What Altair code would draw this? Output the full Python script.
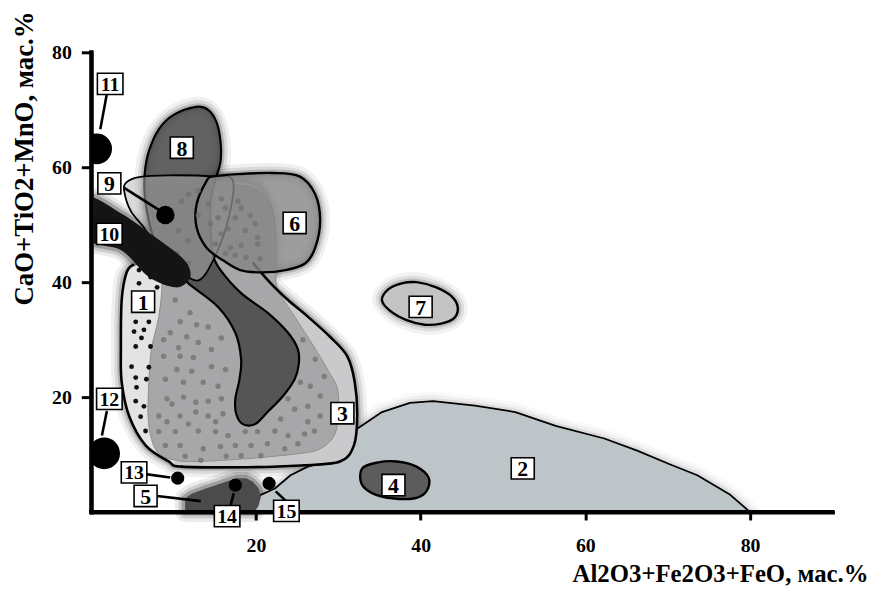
import altair as alt
import pandas as pd

FONT = "Liberation Serif"
X_TICKS = [20, 40, 60, 80]
Y_TICKS = [20, 40, 60, 80]
X_TITLE = "Al2O3+Fe2O3+FeO, мас.%"
Y_TITLE = "CaO+TiO2+MnO, мас.%"
X_DOMAIN = [0, 90]
Y_DOMAIN = [0, 80]

# ---- field outlines (x = Al2O3+Fe2O3+FeO, y = CaO+TiO2+MnO, wt.%) ----
FIELD_2 = [(17.0, 0.0), (17.5, 1.2), (20.0, 2.6), (22.3, 4.1), (24.2, 6.4), (26.3, 7.9),
           (29.9, 9.3), (31.5, 12.0), (32.3, 14.5), (35.3, 17.4), (38.7, 19.0), (41.5, 19.3),
           (46.6, 18.5), (51.5, 17.4), (56.4, 15.0), (62.3, 12.8), (66.3, 10.7), (70.1, 8.4),
           (73.6, 6.4), (77.6, 3.0), (80.0, 0.0)]
FIELD_5 = [(11.4, 0.0), (11.4, 2.4), (12.2, 3.2), (13.5, 3.9), (15.2, 4.7), (16.6, 5.4),
           (17.8, 5.9), (18.8, 5.9), (19.6, 5.3), (20.3, 4.2), (20.6, 2.6), (20.3, 1.0), (19.8, 0.0)]
FIELD_3 = [(4.3, 41.7), (6.4, 43.4), (7.2, 47.2), (7.0, 53.3), (7.6, 56.7), (10.8, 57.4),
           (19.0, 57.2), (21.4, 54.1), (22.2, 47.2), (22.0, 42.1), (21.8, 39.8), (23.9, 36.9),
           (26.3, 34.0), (29.0, 30.5), (31.1, 27.1), (32.0, 22.6), (32.3, 16.7), (31.9, 11.6),
           (30.2, 8.8), (25.4, 8.1), (19.0, 7.8), (11.0, 7.9), (9.4, 8.8), (6.6, 11.6),
           (4.6, 16.7), (3.7, 22.6), (3.6, 28.3), (3.7, 36.9)]
FIELD_3_EDGE = [(19.6, 43.4), (21.8, 39.8), (23.9, 36.9), (26.3, 34.0), (29.0, 30.5), (31.1, 27.1),
                (32.0, 22.6), (32.3, 16.7), (31.9, 11.6), (30.2, 8.8), (25.4, 8.1), (19.0, 7.8),
                (11.0, 7.9), (9.4, 8.8), (6.6, 11.6), (4.6, 16.7), (3.7, 22.6), (3.6, 28.3),
                (3.7, 36.9), (4.3, 41.7), (5.2, 43.1)]
FIELD_1 = [(4.3, 41.7), (6.4, 43.4), (8.2, 43.4), (8.6, 39.8), (8.2, 34.0), (7.3, 28.3),
           (7.0, 22.6), (6.9, 16.7), (7.3, 12.8), (8.2, 10.2), (10.2, 9.0), (9.4, 8.8),
           (6.6, 11.6), (4.6, 16.7), (3.7, 22.6), (3.6, 28.3), (3.7, 36.9)]
STIPPLE = [(7.8, 56.7), (10.8, 57.1), (18.8, 56.7), (21.7, 53.6), (22.4, 47.8), (22.4, 42.1),
           (22.7, 38.6), (24.7, 34.0), (26.9, 29.1), (28.7, 24.8), (29.9, 21.4), (30.0, 17.1),
           (29.5, 13.3), (27.8, 11.0), (25.4, 10.2), (19.0, 9.3), (13.0, 8.8), (10.2, 9.0),
           (8.2, 10.2), (7.3, 12.8), (6.9, 16.7), (7.0, 22.6), (7.3, 28.3), (8.2, 34.0),
           (8.6, 39.8), (8.2, 43.8), (7.6, 49.0), (7.3, 53.3)]
FIELD_8 = [(12.7, 70.5), (14.2, 70.0), (15.2, 67.9), (15.7, 64.5), (15.7, 61.0), (15.1, 57.9),
           (14.5, 54.1), (14.5, 49.0), (14.8, 44.7), (15.7, 42.1), (18.2, 38.1), (21.4, 34.7),
           (23.9, 31.2), (25.1, 28.3), (25.2, 25.7), (24.7, 23.1), (23.3, 20.2), (21.4, 17.4),
           (19.9, 15.3), (18.4, 15.3), (17.6, 17.1), (17.5, 19.7), (18.0, 23.1), (18.2, 26.6),
           (17.5, 31.2), (15.4, 35.7), (11.8, 39.8), (9.2, 43.4), (7.8, 46.7), (7.0, 50.7),
           (6.5, 55.0), (6.5, 59.0), (7.0, 62.8), (8.2, 66.6), (10.0, 69.1)]
FIELD_9 = [(4.0, 55.9), (4.3, 57.4), (5.8, 58.3), (9.4, 58.6), (14.8, 58.4), (17.2, 57.6),
           (16.6, 50.7), (14.8, 43.8), (13.0, 40.3), (10.8, 42.1), (8.0, 46.0), (6.4, 49.5),
           (4.8, 52.4)]
FIELD_6 = [(14.0, 57.6), (14.8, 58.4), (17.8, 58.8), (22.0, 59.0), (25.3, 58.4), (27.2, 55.3),
           (27.8, 50.7), (27.2, 46.0), (26.0, 43.3), (23.6, 42.1), (20.8, 41.7), (18.1, 42.1),
           (16.0, 43.8), (14.0, 46.0), (12.8, 49.5), (12.8, 53.6)]
FIELD_10 = [(-0.5, 54.7), (3.7, 51.9), (7.8, 47.8), (11.0, 44.3), (12.0, 42.1), (11.8, 40.3),
            (10.2, 39.1), (7.0, 40.9), (3.7, 45.5), (-0.5, 47.6)]
FIELD_4 = [(32.9, 7.6), (34.7, 8.6), (37.1, 8.8), (39.5, 7.9), (41.0, 5.9), (40.7, 3.6),
           (39.3, 2.4), (36.5, 2.4), (34.1, 3.3), (32.8, 5.0)]
FIELD_7 = [(35.3, 36.9), (36.1, 38.8), (37.7, 39.8), (39.5, 40.0), (41.9, 39.1), (43.7, 37.6),
           (44.5, 35.7), (44.1, 33.8), (42.5, 32.8), (40.5, 32.6), (38.3, 33.4), (36.3, 35.0)]

GRAY_DOTS = [(10.2, 36.9), (12.0, 34.7), (10.8, 33.1), (12.8, 32.6), (14.2, 32.2), (9.6, 31.2),
             (11.6, 30.5), (13.0, 29.5), (8.8, 30.0), (10.6, 28.6), (14.6, 28.3), (15.8, 30.3),
             (8.8, 27.1), (10.8, 27.1), (12.4, 26.9), (14.6, 25.3), (10.4, 24.8), (12.2, 24.5),
             (16.3, 24.8), (9.0, 23.1), (11.2, 22.6), (13.6, 22.6), (15.4, 21.9), (9.2, 19.7),
             (11.2, 20.0), (14.2, 19.3), (15.8, 19.7), (9.8, 18.8), (12.7, 19.1), (8.2, 16.7),
             (10.8, 16.7), (12.7, 17.4), (14.2, 16.7), (16.0, 17.1), (9.2, 15.7), (11.8, 15.3),
             (15.1, 15.7), (8.2, 14.0), (10.2, 14.0), (13.0, 14.1), (15.1, 14.0), (16.6, 13.3),
             (18.7, 14.0), (20.2, 14.0), (22.3, 14.1), (23.9, 13.3), (25.9, 13.6), (27.1, 14.1),
             (9.0, 11.6), (10.8, 11.6), (13.6, 11.0), (15.7, 11.4), (17.5, 11.6), (19.4, 11.6),
             (21.4, 11.9), (23.5, 11.0), (25.1, 11.9), (11.4, 9.7), (13.3, 9.0), (16.4, 9.7),
             (18.2, 9.8), (20.6, 9.8), (23.0, 16.2), (24.7, 17.9), (26.3, 18.4), (27.8, 20.2),
             (26.6, 21.9), (28.3, 23.6), (25.4, 22.6), (23.9, 19.7), (26.3, 15.7), (27.8, 16.7),
             (25.7, 30.0), (27.2, 26.6),
             (15.8, 54.5), (17.8, 54.1), (14.2, 53.6), (18.2, 52.9), (16.3, 52.9), (15.4, 51.2),
             (17.5, 51.2), (19.3, 51.6), (14.5, 50.2), (19.9, 50.2), (16.6, 49.3), (18.7, 49.0),
             (15.8, 48.4), (20.2, 47.8), (15.1, 46.7), (18.2, 46.4), (16.9, 46.0), (20.2, 46.7),
             (16.3, 45.0), (17.5, 44.7), (18.8, 44.3), (20.5, 44.1),
             (11.8, 55.3), (11.0, 54.1), (13.0, 55.9), (10.6, 49.0), (11.8, 47.2), (10.4, 45.0),
             (11.8, 43.3), (13.0, 51.6)]
BLACK_DOTS = [(5.8, 42.1), (7.2, 40.9), (5.8, 39.8), (8.0, 39.1), (5.4, 33.1), (7.0, 33.1),
              (6.4, 31.7), (5.2, 31.4), (6.1, 30.3), (7.2, 28.8), (5.4, 28.8), (4.9, 25.3),
              (7.0, 25.2), (5.4, 23.4), (6.7, 23.1), (5.5, 21.7), (5.4, 19.3), (6.4, 18.4),
              (6.0, 16.6), (6.6, 14.1), (8.2, 46.4), (8.6, 44.7)]

# black symbols
DISC_X = [0.66, 1.57, 9.0, 10.5, 17.5, 21.6]
DISC_Y = [63.2, 10.2, 51.7, 5.9, 4.7, 5.0]
DISC_SIZE = [960, 1018, 346, 177, 177, 177]

# leader lines: start (x, y) -> end (x2, y2)
LEAD_X = [1.9, 1.9, 4.0, 6.6, 8.0, 16.9, 22.4]
LEAD_Y = [72.8, 17.6, 56.4, 6.6, 2.8, 1.0, 3.6]
LEAD_X2 = [1.1, 1.3, 8.4, 9.6, 13.3, 17.3, 23.9]
LEAD_Y2 = [66.6, 13.3, 52.4, 6.0, 1.9, 3.3, 1.6]

# numbered labels
LABELS = ["1", "2", "3", "4", "5", "6", "7", "8", "9", "10", "11", "12", "13", "14", "15"]
LABEL_X = [6.3, 52.4, 30.5, 36.7, 6.6, 24.7, 40.0, 11.0, 2.2, 2.2, 2.3, 2.2, 5.2, 16.5, 23.7]
LABEL_Y = [36.6, 7.6, 17.2, 4.7, 2.8, 50.3, 35.7, 63.4, 57.2, 48.4, 74.5, 19.7, 6.9, -0.7, 0.2]


def frame(points):
    return pd.DataFrame({"i": list(range(len(points))),
                         "x": [p[0] for p in points],
                         "y": [p[1] for p in points]})


XAX = alt.Axis(values=X_TICKS, title=X_TITLE, grid=False,
               domainColor="black", domainWidth=4, domainCap="square",
               tickColor="black", tickWidth=3, tickSize=8,
               labelFont=FONT, labelFontWeight="bold", labelFontSize=20, labelColor="black",
               labelPadding=16,
               titleFont=FONT, titleFontWeight="bold", titleFontSize=25, titleColor="black",
               titleX=784, titleY=70, titleAlign="right", titleBaseline="alphabetic", titleAngle=0)
YAX = alt.Axis(values=Y_TICKS, title=Y_TITLE, grid=False,
               domainColor="black", domainWidth=4, domainCap="square",
               tickColor="black", tickWidth=3, tickSize=10,
               labelFont=FONT, labelFontWeight="bold", labelFontSize=20, labelColor="black",
               labelPadding=10,
               titleFont=FONT, titleFontWeight="bold", titleFontSize=27, titleColor="black",
               titleX=-59, titleY=255, titleAlign="left", titleBaseline="alphabetic", titleAngle=270)
X = alt.X("x:Q", scale=alt.Scale(domain=X_DOMAIN, nice=False, zero=False), axis=XAX)
Y = alt.Y("y:Q", scale=alt.Scale(domain=Y_DOMAIN, nice=False, zero=False), axis=YAX)


def shape(points, fill=None, stroke=None, sw=2.5, fop=1.0, interp="cardinal-closed", clip=False):
    kw = dict(interpolate=interp, clip=clip, strokeJoin="round")
    if fill:
        kw.update(fill=fill, fillOpacity=fop)
    if stroke:
        kw.update(stroke=stroke, strokeWidth=sw)
    else:
        kw.update(strokeOpacity=0)
    return alt.Chart(frame(points)).mark_line(**kw).encode(x=X, y=Y, order="i:Q")


def halo(points, interp="cardinal-closed", clip=False, k=1.0):
    out = []
    for w, o in [(20, 0.05 * k), (13, 0.08 * k), (7, 0.14 * k)]:
        out.append(alt.Chart(frame(points)).mark_line(
            interpolate=interp, stroke="black", strokeWidth=w, strokeOpacity=o,
            strokeJoin="round", clip=clip).encode(x=X, y=Y, order="i:Q"))
    return out


layers = []
layers += halo(FIELD_2, interp="linear-closed", clip=True, k=0.5)
layers += halo(FIELD_5, interp="linear-closed", k=1.6)
layers += halo(FIELD_3, k=1.2)
layers += halo(FIELD_8, k=1.2)
layers += halo(FIELD_6, k=1.2)
layers += halo(FIELD_4, k=1.2)
layers += halo(FIELD_7, k=1.0)
layers += halo(FIELD_10, clip=True, k=1.6)

layers.append(shape(FIELD_2, fill="#bdc5c8", stroke="black", sw=1.8, interp="linear-closed", clip=True))
layers.append(shape(FIELD_5, fill="#4b4b4b", interp="linear-closed"))
layers.append(shape(FIELD_3, fill="#cacacc"))
layers.append(shape(FIELD_1, fill="#e3e3e3"))
layers.append(shape(STIPPLE, fill="#a7a7a9", stroke="#8e8e8e", sw=1))

layers.append(alt.Chart(frame(BLACK_DOTS)).mark_circle(color="#111111", size=24, opacity=1)
              .encode(x=X, y=Y))
layers.append(shape(FIELD_3_EDGE, stroke="black", sw=2.6, interp="cardinal"))

layers.append(shape(FIELD_8, fill="#464646", stroke="black", sw=2.2, fop=0.85))
layers.append(shape(FIELD_9, fill="#b4b4b4", stroke="black", sw=1.8, fop=0.5))
layers.append(shape(FIELD_6, fill="#848484", stroke="black", sw=2.4, fop=0.8))

layers.append(alt.Chart(frame(GRAY_DOTS)).mark_circle(color="#707070", size=30, opacity=0.75)
              .encode(x=X, y=Y))

layers.append(shape(FIELD_10, fill="#141414", clip=True))
layers.append(shape(FIELD_4, fill="#5c5c5c", stroke="black", sw=2.4))
layers.append(shape(FIELD_7, fill="#c3c3c3", stroke="black", sw=2.4))

lead_df = pd.DataFrame({"x": LEAD_X, "y": LEAD_Y, "x2": LEAD_X2, "y2": LEAD_Y2})
layers.append(alt.Chart(lead_df).mark_rule(color="black", strokeWidth=2.6)
              .encode(x=X, y=Y, x2="x2:Q", y2="y2:Q"))

disc_df = pd.DataFrame({"x": DISC_X, "y": DISC_Y, "s": DISC_SIZE})
layers.append(alt.Chart(disc_df).mark_circle(color="black", opacity=1, clip=True)
              .encode(x=X, y=Y, size=alt.Size("s:Q", scale=None, legend=None)))

# axis lines redrawn above the fields (label boxes stay on top of them)
axis_df = pd.DataFrame({"x": [X_DOMAIN[0], X_DOMAIN[0]], "y": [Y_DOMAIN[0], Y_DOMAIN[0]],
                        "x2": [X_DOMAIN[1], X_DOMAIN[0]], "y2": [Y_DOMAIN[0], Y_DOMAIN[1]]})
layers.append(alt.Chart(axis_df).mark_rule(color="black", strokeWidth=4, strokeCap="square")
              .encode(x=X, y=Y, x2="x2:Q", y2="y2:Q"))

lab_df = pd.DataFrame({"x": LABEL_X, "y": LABEL_Y, "t": LABELS})
lab_df["n"] = lab_df["t"].str.len()
one = lab_df[lab_df["n"] == 1]
two = lab_df[lab_df["n"] == 2]
layers.append(alt.Chart(one).mark_point(shape="M-1.08,-1H1.08V1H-1.08Z", filled=True, fill="white",
                                        stroke="black", strokeWidth=1.6, size=462, opacity=1)
              .encode(x=X, y=Y))
layers.append(alt.Chart(two).mark_point(shape="M-1.2,-1H1.2V1H-1.2Z", filled=True, fill="white",
                                        stroke="black", strokeWidth=1.6, size=462, opacity=1)
              .encode(x=X, y=Y))
layers.append(alt.Chart(one).mark_text(font=FONT, fontWeight="bold", fontSize=22, color="black",
                                       baseline="middle", dy=1)
              .encode(x=X, y=Y, text="t:N"))
layers.append(alt.Chart(two).mark_text(font=FONT, fontWeight="bold", fontSize=20, color="black",
                                       baseline="middle", dy=1)
              .encode(x=X, y=Y, text="t:N"))

chart = alt.layer(*layers).properties(
    width=748, height=464,
    autosize=alt.AutoSizeParams(type="none"),
    padding={"left": 84, "top": 42, "right": 42, "bottom": 80},
    background="white",
).configure_view(stroke=None)

chart.save("out.html", embed_options={"renderer": "svg", "actions": False})
